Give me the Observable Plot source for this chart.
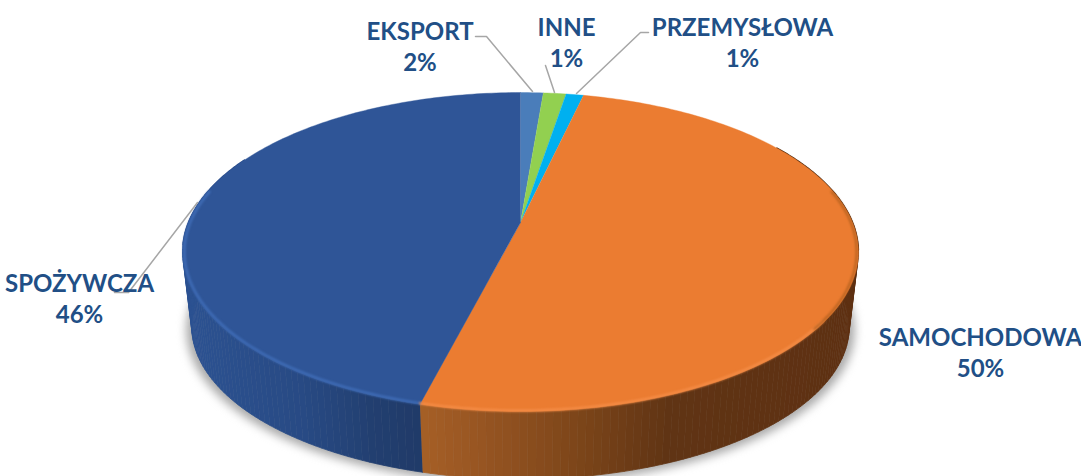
<!DOCTYPE html>
<html>
<head>
<meta charset="utf-8">
<script src="https://cdn.jsdelivr.net/npm/d3@7"></script>
<script src="https://cdn.jsdelivr.net/npm/@observablehq/plot@0.6"></script>
<style>html,body{margin:0;padding:0;background:#fff}svg{display:block}</style>
</head>
<body>
<div id="chart"></div>
<script>
// Data, clockwise from twelve o'clock
const categories = ["EKSPORT", "INNE", "PRZEMYSŁOWA", "SAMOCHODOWA", "SPOŻYWCZA"];
const shares = [1.3, 1.3, 1.0, 50.4, 46.0];
const percentLabels = ["2%", "1%", "1%", "50%", "46%"];
const topColors = ["#4a7dba", "#92d050", "#00b0f0", "#eb7c31", "#2f5597"];

// Picture layout, kept apart from the data
const W = 1081, H = 476;
const labelX = [419.5, 566, 742, 980, 79];
const labelY = [45, 41, 41, 351, 297];
const leaders = [
  [[475, 36], [486, 36], [532, 91]],
  [[545, 65], [554, 92]],
  [[648, 32], [640, 32], [576, 93]],
  [],
  [[197, 202], [128, 292], [114, 292]]
];
const sideStops = {
  SAMOCHODOWA: [[421, "#a55f26"], [480, "#975522"], [580, "#7c4519"], [670, "#603414"], [860, "#5e3012"]],
  "SPOŻYWCZA": [[180, "#2c5292"], [300, "#284a84"], [370, "#223f70"], [422, "#203a68"]]
};

// Perspective disc: true angle -> rim position around the pie's apex
const cx = 520, apexY = 222, a = 332, b = 154, k = 0.185;
const rad = d => d * Math.PI / 180;
function offset(t) {
  const w = 1 + k * Math.cos(rad(t));
  return [a * Math.sin(rad(t)) / w, b * Math.cos(rad(t)) / w];
}
const topRim = (t, inset = 1) => { const [X, Y] = offset(t); return {x: cx + inset * X, y: apexY - inset * Y}; };
const baseRim = t => { const [X, Y] = offset(t); return {x: cx + 0.973 * X, y: 298 - 0.956 * Y}; };

// Slices in degrees from the shares
const total = d3.sum(shares);
let run = 0;
const slices = categories.map((name, i) => {
  const start = run / total * 360; run += shares[i];
  return {name, start, end: run / total * 360, color: topColors[i]};
});
const steps = (s, e, n) => d3.range(n + 1).map(i => s + (e - s) * i / n);

// Top face
const topFace = slices.flatMap(s => [
  {x: cx, y: apexY, z: s.name, color: s.color},
  ...steps(s.start, s.end, Math.ceil((s.end - s.start) / 1) + 1).map(t => ({...topRim(t), z: s.name, color: s.color}))
]);

// Side wall, as narrow shaded strips
const sideStrips = [];
const orange = slices[3], blue = slices[4];
function addSide(name, from, to) {
  const stops = sideStops[name];
  const shade = d3.scaleLinear().domain(stops.map(d => d[0])).range(stops.map(d => d[1])).interpolate(d3.interpolateRgb).clamp(true);
  const ts = steps(from, to, Math.ceil(Math.abs(to - from) / 1.2));
  d3.pairs(ts).forEach(([t0, t1], i) => {
    const id = name + i, mid = topRim((t0 + t1) / 2);
    const color = shade(mid.x);
    [topRim(t0), topRim(t1), baseRim(t1), baseRim(t0)].forEach(p => sideStrips.push({...p, z: id, color}));
  });
}
addSide(orange.name, 78, orange.end);
addSide(blue.name, blue.start, 282);

// Soft bevels along the front rim
const rimLine = (from, to, inset) => steps(from, to, 80).map(t => topRim(t, inset));

// Shadow under the disc
const shadow = steps(80, 280, 120).map(t => { const p = baseRim(t); return {x: cx + (p.x - cx) * 1.012, y: p.y + 3}; });

const labels = categories.map((name, i) => ({text: name + "\n" + percentLabels[i], x: labelX[i], y: labelY[i]}));
const leaderRows = leaders.flatMap((pts, i) => pts.map(([x, y]) => ({x, y, z: i})));

const plot = Plot.plot({
  width: W, height: H, margin: 0,
  x: {domain: [0, W], axis: null},
  y: {domain: [H, 0], axis: null},
  color: {type: "identity"},
  style: {background: "#fff"},
  marks: [
    Plot.line(shadow, {x: "x", y: "y", fill: "#a9a9a9", stroke: "#a9a9a9", strokeWidth: 3, imageFilter: "blur(5px)"}),
    Plot.line(sideStrips, {x: "x", y: "y", z: "z", fill: "color", stroke: "color", strokeWidth: 0.8}),
    Plot.line(rimLine(58, 100, 1), {x: "x", y: "y", stroke: "#4a260c", strokeWidth: 1.6}),
    Plot.line(rimLine(262, 296, 1), {x: "x", y: "y", stroke: "#2a4c8a", strokeWidth: 1.6}),
    Plot.line(topFace, {x: "x", y: "y", z: "z", fill: "color", stroke: "color", strokeWidth: 0.4}),
    Plot.line(rimLine(blue.start, 282, 0.995), {x: "x", y: "y", stroke: "#3f6cb6", strokeWidth: 2.6, imageFilter: "blur(1.2px)"}),
    Plot.line(rimLine(125, orange.end, 0.995), {x: "x", y: "y", stroke: "#f58d47", strokeWidth: 2.4, imageFilter: "blur(1.2px)"}),
    Plot.line(rimLine(78, 128, 0.995), {x: "x", y: "y", stroke: "#b4611f", strokeWidth: 2, imageFilter: "blur(1.2px)"}),
    Plot.line(leaderRows, {x: "x", y: "y", z: "z", stroke: "#a6a6a6", strokeWidth: 1.5}),
    Plot.text(labels, {
      x: "x", y: "y", text: "text", textAnchor: "middle", lineHeight: 1.32,
      fontFamily: "Lato", fontWeight: 700, fontSize: 24, fill: "#214f86"
    })
  ]
});
document.getElementById("chart").append(plot);
</script>
</body>
</html>
